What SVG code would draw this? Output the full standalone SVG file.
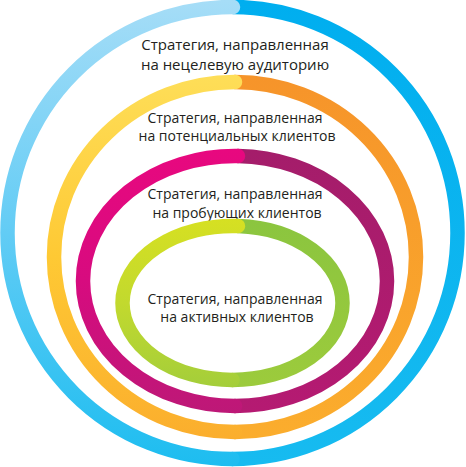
<svg xmlns="http://www.w3.org/2000/svg" width="466" height="467" viewBox="0 0 466 467">
  <defs>
    <linearGradient id="gBlueL" gradientUnits="userSpaceOnUse" x1="0" y1="0" x2="0" y2="466">
      <stop offset="0" stop-color="#a6ddf7"/>
      <stop offset="0.5" stop-color="#62ccf5"/>
      <stop offset="1" stop-color="#1dbdf0"/>
    </linearGradient>
    <linearGradient id="gBlueR" gradientUnits="userSpaceOnUse" x1="0" y1="0" x2="0" y2="466">
      <stop offset="0" stop-color="#00aeef"/>
      <stop offset="1" stop-color="#17bbf0"/>
    </linearGradient>
    <linearGradient id="gYelL" gradientUnits="userSpaceOnUse" x1="0" y1="75" x2="0" y2="439">
      <stop offset="0" stop-color="#fede58"/>
      <stop offset="0.5" stop-color="#fec934"/>
      <stop offset="1" stop-color="#fbae2d"/>
    </linearGradient>
    <linearGradient id="gYelR" gradientUnits="userSpaceOnUse" x1="0" y1="75" x2="0" y2="439">
      <stop offset="0" stop-color="#f6942a"/>
      <stop offset="1" stop-color="#fbad2d"/>
    </linearGradient>
    <linearGradient id="gMagL" gradientUnits="userSpaceOnUse" x1="0" y1="149" x2="0" y2="413">
      <stop offset="0" stop-color="#e8087f"/>
      <stop offset="0.5" stop-color="#d70b7f"/>
      <stop offset="1" stop-color="#bd1877"/>
    </linearGradient>
    <linearGradient id="gMagR" gradientUnits="userSpaceOnUse" x1="0" y1="149" x2="0" y2="413">
      <stop offset="0" stop-color="#a41d6a"/>
      <stop offset="1" stop-color="#b51a72"/>
    </linearGradient>
    <linearGradient id="gGrnL" gradientUnits="userSpaceOnUse" x1="0" y1="219" x2="0" y2="387">
      <stop offset="0" stop-color="#d6e022"/>
      <stop offset="0.5" stop-color="#c2d92e"/>
      <stop offset="1" stop-color="#a4ce3a"/>
    </linearGradient>
    <linearGradient id="gGrnR" gradientUnits="userSpaceOnUse" x1="0" y1="219" x2="0" y2="387">
      <stop offset="0" stop-color="#8bc53f"/>
      <stop offset="1" stop-color="#9ccb3c"/>
    </linearGradient>
  </defs>
  <style>
    .ring { fill: none; stroke-width: 14.5; stroke-linecap: round; }
    .lbl { font-family: "Open Sans", "Noto Sans", "DejaVu Sans", sans-serif; fill: #231f20; text-anchor: middle; }
  </style>

  <g id="ring-untargeted">
    <path class="ring" stroke="url(#gBlueR)" d="M 233 7 A 225 226 0 0 1 457.5 233 A 225 226 0 0 1 232.5 459"/>
    <path class="ring" stroke="url(#gBlueL)" d="M 232.5 459 A 225 226 0 0 1 7.5 233 A 225 226 0 0 1 233 7"/>
    <text class="lbl" font-size="15" x="235" y="50">Стратегия, направленная</text>
    <text class="lbl" font-size="15" x="235" y="69.5">на нецелевую аудиторию</text>
  </g>

  <g id="ring-potential">
    <path class="ring" stroke="url(#gYelR)" d="M 235 82 A 181 175 0 0 1 416 257 A 181 175 0 0 1 235 432"/>
    <path class="ring" stroke="url(#gYelL)" d="M 235 432 A 181 175 0 0 1 54 257 A 181 175 0 0 1 235 82"/>
    <text class="lbl" font-size="14" x="235" y="122.5">Стратегия, направленная</text>
    <text class="lbl" font-size="14" x="237" y="140.5">на потенциальных клиентов</text>
  </g>

  <g id="ring-trial">
    <path class="ring" stroke="url(#gMagR)" d="M 238 156 A 152 125 0 0 1 387 281 A 152 125 0 0 1 235 406"/>
    <path class="ring" stroke="url(#gMagL)" d="M 235 406 A 152 125 0 0 1 83 281 A 152 125 0 0 1 238 156"/>
    <text class="lbl" font-size="14" x="235" y="199">Стратегия, направленная</text>
    <text class="lbl" font-size="14" x="237" y="217.5">на пробующих клиентов</text>
  </g>

  <g id="ring-active">
    <path class="ring" stroke="url(#gGrnR)" d="M 238 226 A 110 77 0 0 1 342.5 303 A 110 77 0 0 1 232.5 380"/>
    <path class="ring" stroke="url(#gGrnL)" d="M 232.5 380 A 110 77 0 0 1 122.5 303 A 110 77 0 0 1 238 226"/>
    <text class="lbl" font-size="14" x="235" y="304">Стратегия, направленная</text>
    <text class="lbl" font-size="14" x="237" y="322">на активных клиентов</text>
  </g>
</svg>
